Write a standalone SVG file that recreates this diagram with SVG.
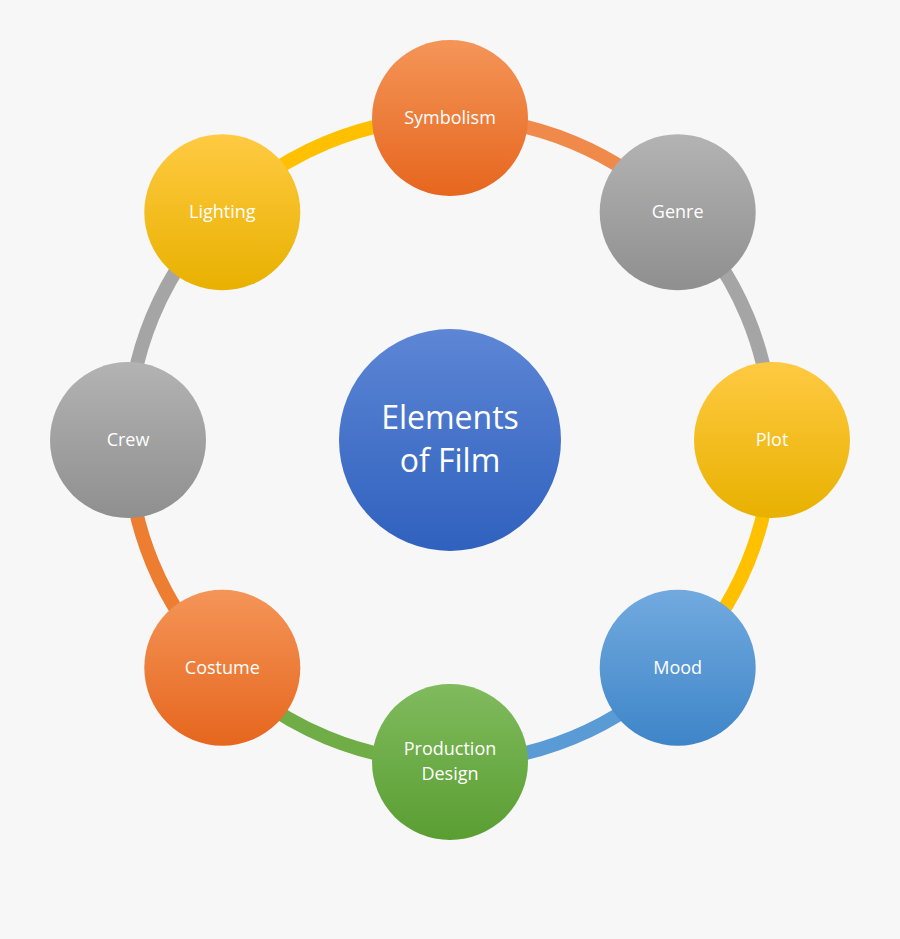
<svg xmlns="http://www.w3.org/2000/svg" width="900" height="939" viewBox="0 0 900 939">
<defs>
<linearGradient id="go" x1="0" y1="0" x2="0" y2="1"><stop offset="0" stop-color="#f49558"/><stop offset="1" stop-color="#e6661e"/></linearGradient>
<linearGradient id="gg" x1="0" y1="0" x2="0" y2="1"><stop offset="0" stop-color="#b3b3b3"/><stop offset="1" stop-color="#8f8f8f"/></linearGradient>
<linearGradient id="gy" x1="0" y1="0" x2="0" y2="1"><stop offset="0" stop-color="#ffca42"/><stop offset="1" stop-color="#e8b100"/></linearGradient>
<linearGradient id="gb" x1="0" y1="0" x2="0" y2="1"><stop offset="0" stop-color="#72aadf"/><stop offset="1" stop-color="#3e85c8"/></linearGradient>
<linearGradient id="gn" x1="0" y1="0" x2="0" y2="1"><stop offset="0" stop-color="#80bb5e"/><stop offset="1" stop-color="#5a9e32"/></linearGradient>
<linearGradient id="gc" x1="0" y1="0" x2="0" y2="1"><stop offset="0" stop-color="#5d86d5"/><stop offset="1" stop-color="#2f61be"/></linearGradient>
</defs>
<style>
text{font-family:"Open Sans","Liberation Sans",sans-serif;fill:#fff;text-anchor:middle;font-size:18px}
.c{font-size:32px}
.a{fill:none;stroke-width:14}
</style>
<rect width="900" height="939" fill="#f7f7f7"/>
<g id="connectors">
<path class="a" stroke="#f08a4b" d="M450,118 A322,322 0 0 1 677.7,212.3"/>
<path class="a" stroke="#a5a5a5" d="M677.7,212.3 A322,322 0 0 1 772,440"/>
<path class="a" stroke="#ffc000" d="M772,440 A322,322 0 0 1 677.7,667.7"/>
<path class="a" stroke="#5b9bd5" d="M677.7,667.7 A322,322 0 0 1 450,762"/>
<path class="a" stroke="#70ad47" d="M450,762 A322,322 0 0 1 222.3,667.7"/>
<path class="a" stroke="#ed7d31" d="M222.3,667.7 A322,322 0 0 1 128,440"/>
<path class="a" stroke="#a5a5a5" d="M128,440 A322,322 0 0 1 222.3,212.3"/>
<path class="a" stroke="#ffc000" d="M222.3,212.3 A322,322 0 0 1 450,118"/>
</g>
<g id="center"><circle cx="450" cy="440" r="111" fill="url(#gc)"/><text class="c" x="450" y="429">Elements</text><text class="c" x="450" y="472">of Film</text></g>
<g id="symbolism"><circle cx="450" cy="118" r="78" fill="url(#go)"/><text x="450" y="124">Symbolism</text></g>
<g id="genre"><circle cx="677.7" cy="212.3" r="78" fill="url(#gg)"/><text x="677.7" y="218">Genre</text></g>
<g id="plot"><circle cx="772" cy="440" r="78" fill="url(#gy)"/><text x="772" y="446">Plot</text></g>
<g id="mood"><circle cx="677.7" cy="667.7" r="78" fill="url(#gb)"/><text x="677.7" y="674">Mood</text></g>
<g id="production"><circle cx="450" cy="762" r="78" fill="url(#gn)"/><text x="450" y="755">Production</text><text x="450" y="780">Design</text></g>
<g id="costume"><circle cx="222.3" cy="667.7" r="78" fill="url(#go)"/><text x="222.3" y="674">Costume</text></g>
<g id="crew"><circle cx="128" cy="440" r="78" fill="url(#gg)"/><text x="128" y="446">Crew</text></g>
<g id="lighting"><circle cx="222.3" cy="212.3" r="78" fill="url(#gy)"/><text x="222.3" y="218">Lighting</text></g>
</svg>
